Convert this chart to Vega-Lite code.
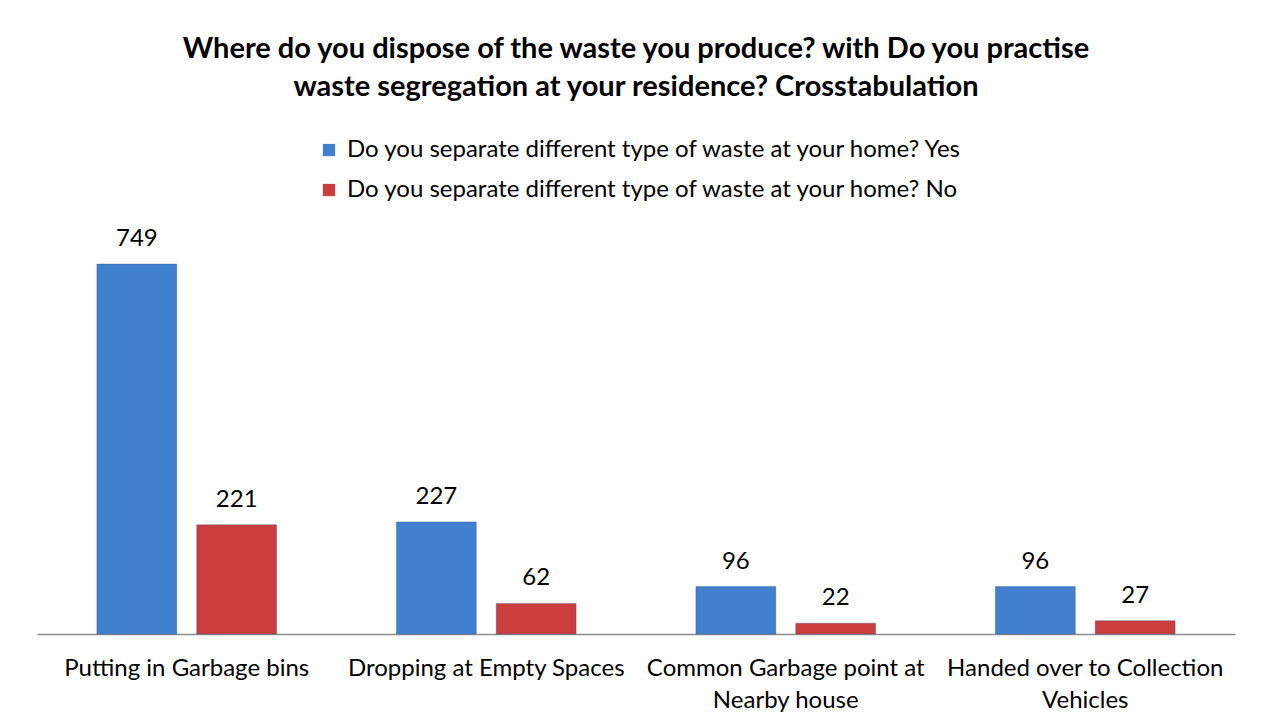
{
  "$schema": "https://vega.github.io/schema/vega-lite/v6.json",
  "width": 1198,
  "height": 405,
  "autosize": "none",
  "padding": {"left": 37, "top": 229, "right": 28, "bottom": 93},
  "background": "white",
  "title": {
    "text": ["Where do you dispose of the waste you produce? with Do you practise", "waste segregation at your residence? Crosstabulation"],
    "font": "Lato",
    "fontSize": 29,
    "fontWeight": "bold",
    "color": "#000000",
    "anchor": "middle",
    "lineHeight": 38,
    "offset": 36
  },
  "data": {
    "values": [
      {"place": "Putting in Garbage bins", "series": "Do you separate different type of waste at your home? Yes", "count": 749},
      {"place": "Putting in Garbage bins", "series": "Do you separate different type of waste at your home? No", "count": 221},
      {"place": "Dropping at Empty Spaces", "series": "Do you separate different type of waste at your home? Yes", "count": 227},
      {"place": "Dropping at Empty Spaces", "series": "Do you separate different type of waste at your home? No", "count": 62},
      {"place": "Common Garbage point at Nearby house", "series": "Do you separate different type of waste at your home? Yes", "count": 96},
      {"place": "Common Garbage point at Nearby house", "series": "Do you separate different type of waste at your home? No", "count": 22},
      {"place": "Handed over to Collection Vehicles", "series": "Do you separate different type of waste at your home? Yes", "count": 96},
      {"place": "Handed over to Collection Vehicles", "series": "Do you separate different type of waste at your home? No", "count": 27}
    ]
  },
  "encoding": {
    "x": {
      "field": "place",
      "type": "nominal",
      "sort": null,
      "scale": {"paddingInner": 0.4, "paddingOuter": 0.2},
      "axis": {
        "title": null,
        "ticks": false,
        "domainColor": "#8c8c8c",
        "domainWidth": 1.5,
        "labelAngle": 0,
        "labelFont": "Lato",
        "labelFontSize": 24,
        "labelColor": "#000000",
        "labelPadding": 22,
        "labelLineHeight": 32,
        "labelLimit": 400,
        "labelExpr": "datum.value == 'Common Garbage point at Nearby house' ? ['Common Garbage point at', 'Nearby house'] : datum.value == 'Handed over to Collection Vehicles' ? ['Handed over to Collection', 'Vehicles'] : datum.value"
      }
    },
    "xOffset": {
      "field": "series",
      "type": "nominal",
      "sort": null,
      "scale": {"paddingInner": 0.2, "paddingOuter": 0}
    },
    "y": {
      "field": "count",
      "type": "quantitative",
      "scale": {"domain": [0, 820]},
      "axis": null
    }
  },
  "layer": [
    {
      "mark": {"type": "bar", "stroke": "#2a4f80", "strokeWidth": 0.6, "strokeOpacity": 0.6},
      "encoding": {
        "color": {
          "field": "series",
          "type": "nominal",
          "sort": null,
          "scale": {"range": ["#4180cf", "#cc3d3d"]},
          "legend": {
            "orient": "none",
            "legendX": 280,
            "legendY": -91,
            "direction": "vertical",
            "title": null,
            "symbolType": "square",
            "symbolSize": 150,
            "symbolStrokeWidth": 0,
            "labelFont": "Lato",
            "labelFontSize": 24,
            "labelColor": "#000000",
            "labelLimit": 800,
            "rowPadding": 16,
            "symbolOffset": 0,
            "labelOffset": 6
          }
        }
      }
    },
    {
      "mark": {"type": "text", "dy": -25, "font": "Lato", "fontSize": 24, "color": "#000000"},
      "encoding": {
        "text": {"field": "count", "type": "quantitative"}
      }
    }
  ],
  "config": {
    "view": {"stroke": null}
  }
}
